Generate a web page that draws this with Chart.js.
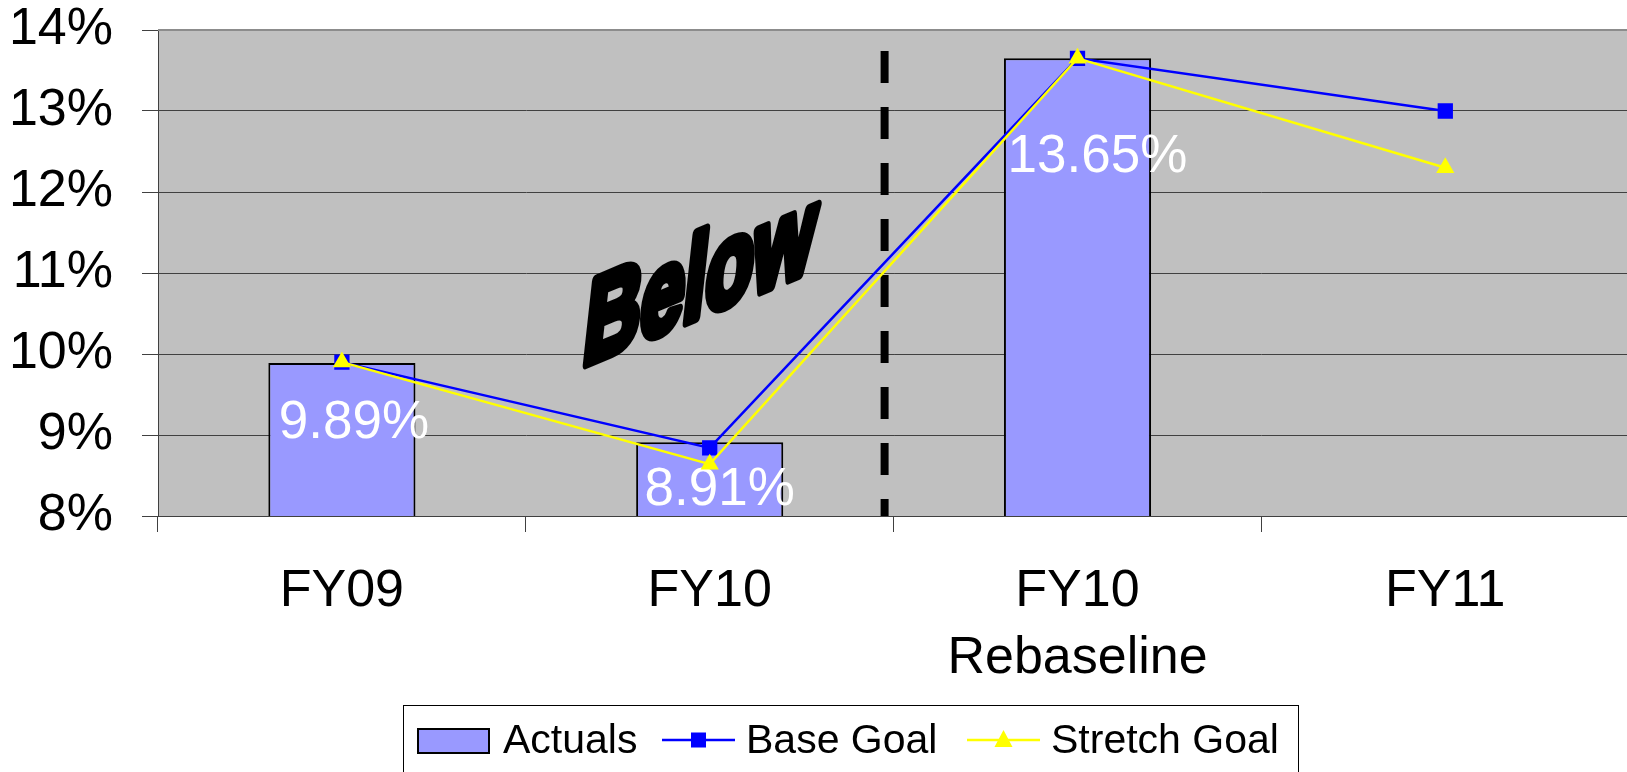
<!DOCTYPE html>
<html>
<head>
<meta charset="utf-8">
<title>Actuals vs Goals</title>
<script src="https://cdn.jsdelivr.net/npm/chart.js@4.4.1/dist/chart.umd.min.js"></script>
<style>
  html, body { margin: 0; padding: 0; background: #fff; overflow: hidden; }
  #wrap { position: relative; width: 1640px; height: 772px; }
</style>
</head>
<body>
<div id="wrap"><canvas id="chart"></canvas></div>
<script>
// Categories (multi-line labels are arrays)
const categories = [['FY09'], ['FY10'], ['FY10', 'Rebaseline'], ['FY11']];

// Series values, in percent
const actuals     = [9.89, 8.91, 13.65, null];
const baseGoal    = [9.9, 8.84, 13.65, 13.0];
const stretchGoal = [9.9, 8.64, 13.65, 12.3];

// Value axis range
const yMin = 8;
const yMax = 14;
const yStep = 1;

const FONT = "'Liberation Sans', Arial, Helvetica, sans-serif";
Chart.defaults.font.family = FONT;

// Grey plot-area fill and lighter top border
const plotBackground = {
  id: 'plotBackground',
  beforeDraw(chart) {
    const { ctx, chartArea: a } = chart;
    ctx.save();
    ctx.fillStyle = '#C0C0C0';
    ctx.fillRect(a.left, a.top, a.right - a.left, a.bottom - a.top);
    ctx.restore();
  },
  beforeDatasetsDraw(chart) {
    const { ctx, chartArea: a } = chart;
    ctx.save();
    ctx.strokeStyle = '#8c8c8c';
    ctx.lineWidth = 2;
    ctx.beginPath();
    ctx.moveTo(a.left, a.top);
    ctx.lineTo(a.right, a.top);
    ctx.stroke();
    ctx.restore();
  }
};

// Dashed divider before the rebaselined year, plus the slanted "Below" caption
const annotations = {
  id: 'annotations',
  beforeDatasetsDraw(chart) {
    const { ctx, chartArea: a, scales: { x } } = chart;
    const xd = (x.getPixelForValue(1) + x.getPixelForValue(2)) / 2 - 9;
    ctx.save();
    ctx.beginPath();
    ctx.rect(a.left, a.top, a.right - a.left, a.bottom - a.top);
    ctx.clip();
    ctx.strokeStyle = '#000';
    ctx.lineWidth = 8;
    ctx.setLineDash([32, 24]);
    ctx.beginPath();
    ctx.moveTo(xd, a.top + 21);
    ctx.lineTo(xd, a.bottom);
    ctx.stroke();
    ctx.restore();

    // "Below" word-art: condensed, sheared upward to the right
    ctx.save();
    ctx.translate(581, 366);
    ctx.transform(0.64, -0.268, -0.11, 1, 0, 0);
    ctx.font = 'bold 122px ' + FONT;
    ctx.textBaseline = 'alphabetic';
    ctx.textAlign = 'left';
    ctx.fillStyle = '#000';
    ctx.strokeStyle = '#000';
    ctx.lineJoin = 'round';
    ctx.lineWidth = 11;
    ctx.strokeText('Below', 0, 0);
    ctx.fillText('Below', 0, 0);
    ctx.restore();
  }
};

// White percentage labels inside the bars
const barLabels = {
  id: 'barLabels',
  afterDatasetDraw(chart, args, opts) {
    if (args.index !== 0) return;
    const { ctx } = chart;
    const meta = chart.getDatasetMeta(0);
    const data = chart.data.datasets[0].data;
    ctx.save();
    ctx.font = '53px ' + FONT;
    ctx.fillStyle = '#fff';
    ctx.textAlign = 'center';
    ctx.textBaseline = 'alphabetic';
    meta.data.forEach((bar, i) => {
      const v = data[i];
      if (v == null) return;
      const off = opts.offsets[i] || [0, 60];
      ctx.fillText(v.toFixed(2) + '%', bar.x + off[0], bar.y + off[1]);
    });
    ctx.restore();
  }
};

// Boxed legend along the bottom edge
const boxLegend = {
  id: 'boxLegend',
  afterDraw(chart) {
    const { ctx } = chart;
    const ds = chart.data.datasets;
    const cy = 740;
    ctx.save();
    ctx.strokeStyle = '#000';
    ctx.lineWidth = 1;
    ctx.strokeRect(403.5, 705.5, 895, 120);

    ctx.font = '41px ' + FONT;
    ctx.fillStyle = '#000';
    ctx.textBaseline = 'middle';
    ctx.textAlign = 'left';

    // Actuals swatch
    ctx.fillStyle = ds[0].backgroundColor;
    ctx.fillRect(418, 729, 71, 24);
    ctx.strokeStyle = '#000';
    ctx.lineWidth = 2;
    ctx.strokeRect(418, 729, 71, 24);
    ctx.fillStyle = '#000';
    ctx.fillText(ds[0].label, 503, cy + 2);

    // Base Goal: line with square marker
    ctx.strokeStyle = ds[1].borderColor;
    ctx.lineWidth = 2.5;
    ctx.beginPath();
    ctx.moveTo(662, cy);
    ctx.lineTo(735, cy);
    ctx.stroke();
    ctx.fillStyle = ds[1].borderColor;
    ctx.fillRect(691, cy - 7.5, 15, 15);
    ctx.fillStyle = '#000';
    ctx.fillText(ds[1].label, 746, cy + 2);

    // Stretch Goal: line with triangle marker
    ctx.strokeStyle = ds[2].borderColor;
    ctx.beginPath();
    ctx.moveTo(967, cy);
    ctx.lineTo(1040, cy);
    ctx.stroke();
    ctx.fillStyle = ds[2].borderColor;
    ctx.beginPath();
    ctx.moveTo(1003.5, cy - 10);
    ctx.lineTo(1012.5, cy + 7);
    ctx.lineTo(994.5, cy + 7);
    ctx.closePath();
    ctx.fill();
    ctx.fillStyle = '#000';
    ctx.fillText(ds[2].label, 1051, cy + 2);
    ctx.restore();
  }
};

new Chart(document.getElementById('chart'), {
  data: {
    labels: categories,
    datasets: [
      {
        type: 'bar',
        label: 'Actuals',
        data: actuals,
        backgroundColor: '#9999FF',
        borderColor: '#000000',
        borderWidth: 2,
        borderSkipped: false,
        barPercentage: 0.4,
        categoryPercentage: 1.0,
        order: 3
      },
      {
        type: 'line',
        label: 'Base Goal',
        data: baseGoal,
        borderColor: '#0000FF',
        backgroundColor: '#0000FF',
        borderWidth: 2.5,
        pointStyle: 'rect',
        pointRadius: 10.8,
        pointBorderWidth: 0,
        tension: 0,
        fill: false,
        order: 2
      },
      {
        type: 'line',
        label: 'Stretch Goal',
        data: stretchGoal,
        borderColor: '#FFFF00',
        backgroundColor: '#FFFF00',
        borderWidth: 2.5,
        pointStyle: 'triangle',
        pointRadius: 10.5,
        pointBorderWidth: 0,
        tension: 0,
        fill: false,
        order: 1
      }
    ]
  },
  options: {
    responsive: true,
    maintainAspectRatio: false,
    animation: false,
    layout: { padding: { top: 30, right: 8, left: 0, bottom: 0 } },
    plugins: {
      legend: { display: false },
      tooltip: { enabled: false },
      barLabels: { offsets: [[12, 75], [10, 63], [20, 114]] }
    },
    scales: {
      x: {
        offset: true,
        grid: {
          offset: true,
          drawOnChartArea: false,
          tickLength: 16,
          color: '#404040',
          lineWidth: 1
        },
        border: { color: '#404040', width: 1 },
        ticks: {
          color: '#000',
          font: { size: 52, lineHeight: 67 / 52 },
          padding: 26,
          maxRotation: 0,
          autoSkip: false
        },
        afterFit(s) {
          s.height = 256;
          s.paddingLeft = 0;
          s.paddingRight = 0;
        }
      },
      y: {
        min: yMin,
        max: yMax,
        grid: {
          color: '#404040',
          lineWidth: 1,
          tickLength: 16
        },
        border: { color: '#404040', width: 1 },
        ticks: {
          stepSize: yStep,
          color: '#000',
          font: { size: 52, lineHeight: 1 },
          padding: 29,
          callback: v => v + '%'
        },
        afterFit(s) {
          s.width = 158;
          s.paddingTop = 0;
          s.paddingBottom = 0;
        }
      }
    }
  },
  plugins: [plotBackground, annotations, barLabels, boxLegend]
});
</script>
</body>
</html>
